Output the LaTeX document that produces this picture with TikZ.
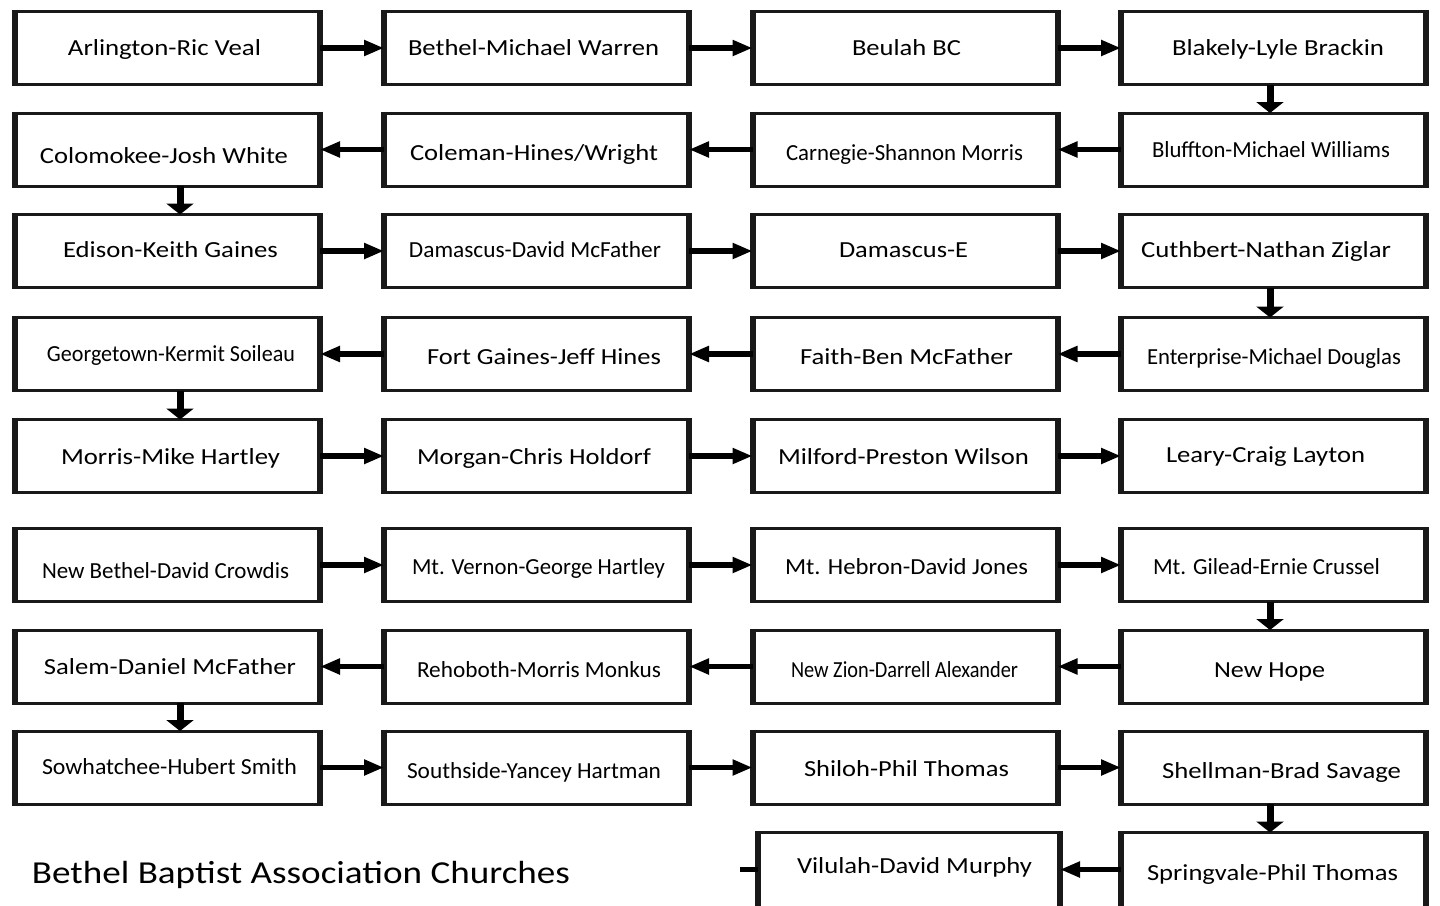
\documentclass[tikz,border=0pt]{standalone}
\usepackage{fontspec}
\setmainfont{Carlito}
\usepackage{graphicx}
\usetikzlibrary{arrows.meta}
\newcommand\fitw[2]{\resizebox{#1pt}{\height}{#2}}
\begin{document}
\begin{tikzpicture}[x=1pt,y=-1pt,
  box/.style={draw=black!90, line width=3pt, minimum width=305pt, minimum height=73pt, inner sep=0pt, outer sep=0pt, fill=white},
  lbl/.style={inner sep=0pt, text height=15pt, text depth=0pt, font=\fontsize{23}{26}\selectfont},
  ttl/.style={inner sep=0pt, text height=21pt, text depth=0pt, font=\fontsize{32}{36}\selectfont},
  side/.style={draw=black!90, line width=6pt, line cap=butt},
  harr/.style={draw=black, line width=5.5pt, -{Triangle[length=20pt,width=15pt]}},
  varr/.style={draw=black, line width=7pt, -{Triangle[length=11pt,width=27pt]}},
  stub/.style={draw=black, line width=5pt}
]
\fill[white] (0,0) rectangle (1440,905);
\useasboundingbox (0,0) rectangle (1440,905);
\begin{scope}
\clip (0,0) rectangle (1440,905);
% boxes
\foreach \r/\y in {1/48,2/149.5,3/251,4/354,5/456,6/565,7/666.5,8/767.5}{
  \node[box] (r\r c1) at (167.5,\y) {};
  \node[box] (r\r c2) at (536.5,\y) {};
  \node[box] (r\r c3) at (905,\y) {};
  \node[box] (r\r c4) at (1273.5,\y) {};
}
\node[box, minimum width=302pt, minimum height=80pt] (r9c3) at (909,872.5) {};
\node[box, minimum height=80pt] (r9c4) at (1273.5,872.5) {};
\foreach \n in {r1c1,r1c2,r1c3,r1c4,r2c1,r2c2,r2c3,r2c4,r3c1,r3c2,r3c3,r3c4,r4c1,r4c2,r4c3,r4c4,r5c1,r5c2,r5c3,r5c4,r6c1,r6c2,r6c3,r6c4,r7c1,r7c2,r7c3,r7c4,r8c1,r8c2,r8c3,r8c4,r9c3,r9c4}{
  \draw[side] ([yshift=1.5pt]\n.north west) -- ([yshift=-1.5pt]\n.south west)
              ([yshift=1.5pt]\n.north east) -- ([yshift=-1.5pt]\n.south east);
}
% labels
\node[lbl] (t11) at (164.5,48) {\fitw{193}{Arlington-Ric Veal}};
\node[lbl] (t12) at (533.5,48) {\fitw{251}{Bethel-Michael Warren}};
\node[lbl] (t13) at (906.5,48) {\fitw{109}{Beulah BC}};
\node[lbl] (t14) at (1278,48) {\fitw{212}{Blakely-Lyle Brackin}};
\node[lbl] (t21) at (164,156) {\fitw{248}{Colomokee-Josh White}};
\node[lbl] (t22) at (534,153) {\fitw{248}{Coleman-Hines/Wright}};
\node[lbl] (t23) at (904.5,153) {\fitw{237}{Carnegie-Shannon Morris}};
\node[lbl] (t24) at (1271,150) {\fitw{238}{Bluffton-Michael Williams}};
\node[lbl] (t31) at (170.5,250) {\fitw{215}{Edison-Keith Gaines}};
\node[lbl] (t32) at (535,250) {\fitw{252}{Damascus-David McFather}};
\node[lbl] (t33) at (903.5,250) {\fitw{129}{Damascus-E}};
\node[lbl] (t34) at (1266,250) {\fitw{250}{Cuthbert-Nathan Ziglar}};
\node[lbl] (t41) at (171,354) {\fitw{248}{Georgetown-Kermit Soileau}};
\node[lbl] (t42) at (544,357) {\fitw{234}{Fort Gaines-Jeff Hines}};
\node[lbl] (t43) at (906.5,357) {\fitw{213}{Faith-Ben McFather}};
\node[lbl] (t44) at (1274,357) {\fitw{254}{Enterprise-Michael Douglas}};
\node[lbl] (t51) at (170.5,457) {\fitw{219}{Morris-Mike Hartley}};
\node[lbl] (t52) at (534,457) {\fitw{234}{Morgan-Chris Holdorf}};
\node[lbl] (t53) at (903.5,457) {\fitw{251}{Milford-Preston Wilson}};
\node[lbl] (t54) at (1265.5,455) {\fitw{199}{Leary-Craig Layton}};
\node[lbl] (t61) at (165.5,571) {\fitw{247}{New Bethel-David Crowdis}};
\node[lbl] (t62) at (538.5,567) {\fitw{253}{Mt. Vernon-George Hartley}};
\node[lbl] (t63) at (906.5,567) {\fitw{243}{Mt. Hebron-David Jones}};
\node[lbl] (t64) at (1266.5,567) {\fitw{227}{Mt. Gilead-Ernie Crussel}};
\node[lbl] (t71) at (170,667) {\fitw{252}{Salem-Daniel McFather}};
\node[lbl] (t72) at (539,670) {\fitw{244}{Rehoboth-Morris Monkus}};
\node[lbl] (t73) at (904.5,670) {\fitw{227}{New Zion-Darrell Alexander}};
\node[lbl] (t74) at (1269.5,670) {\fitw{111}{New Hope}};
\node[lbl] (t81) at (169.5,767) {\fitw{255}{Sowhatchee-Hubert Smith}};
\node[lbl] (t82) at (534,771) {\fitw{254}{Southside-Yancey Hartman}};
\node[lbl] (t83) at (906.5,769) {\fitw{205}{Shiloh-Phil Thomas}};
\node[lbl] (t84) at (1281.5,771) {\fitw{239}{Shellman-Brad Savage}};
\node[lbl] (t93) at (914.5,866) {\fitw{235}{Vilulah-David Murphy}};
\node[lbl] (t94) at (1272.5,873) {\fitw{251}{Springvale-Phil Thomas}};
\node[ttl] (title) at (301,873) {\fitw{538}{Bethel Baptist Association Churches}};
% horizontal arrows
\draw[harr] (r1c1.east) -- (r1c2.west);
\draw[harr] (r1c2.east) -- (r1c3.west);
\draw[harr] (r1c3.east) -- (r1c4.west);
\draw[harr] (r2c4.west) -- (r2c3.east);
\draw[harr] (r2c3.west) -- (r2c2.east);
\draw[harr] (r2c2.west) -- (r2c1.east);
\draw[harr] (r3c1.east) -- (r3c2.west);
\draw[harr] (r3c2.east) -- (r3c3.west);
\draw[harr] (r3c3.east) -- (r3c4.west);
\draw[harr] (r4c4.west) -- (r4c3.east);
\draw[harr] (r4c3.west) -- (r4c2.east);
\draw[harr] (r4c2.west) -- (r4c1.east);
\draw[harr] (r5c1.east) -- (r5c2.west);
\draw[harr] (r5c2.east) -- (r5c3.west);
\draw[harr] (r5c3.east) -- (r5c4.west);
\draw[harr] (r6c1.east) -- (r6c2.west);
\draw[harr] (r6c2.east) -- (r6c3.west);
\draw[harr] (r6c3.east) -- (r6c4.west);
\draw[harr] (r7c4.west) -- (r7c3.east);
\draw[harr] (r7c3.west) -- (r7c2.east);
\draw[harr] (r7c2.west) -- (r7c1.east);
\draw[harr] (r8c1.east) -- (r8c2.west);
\draw[harr] (r8c2.east) -- (r8c3.west);
\draw[harr] (r8c3.east) -- (r8c4.west);
\draw[harr] ([yshift=3pt]r9c4.west) -- ([yshift=3pt]r9c3.east);
\coordinate (stubend) at (740,869.5);
\draw[stub] ([yshift=3pt]r9c3.west) -- (stubend);
% vertical arrows
\draw[varr] ([xshift=-3.5pt]r1c4.south) -- ([xshift=-3.5pt]r2c4.north);
\draw[varr] ([xshift=12.5pt]r2c1.south) -- ([xshift=12.5pt]r3c1.north);
\draw[varr] ([xshift=-3.5pt]r3c4.south) -- ([xshift=-3.5pt]r4c4.north);
\draw[varr] ([xshift=12.5pt]r4c1.south) -- ([xshift=12.5pt]r5c1.north);
\draw[varr] ([xshift=-3.5pt]r6c4.south) -- ([xshift=-3.5pt]r7c4.north);
\draw[varr] ([xshift=12.5pt]r7c1.south) -- ([xshift=12.5pt]r8c1.north);
\draw[varr] ([xshift=-3.5pt]r8c4.south) -- ([xshift=-3.5pt]r9c4.north);
\end{scope}
\end{tikzpicture}
\end{document}
